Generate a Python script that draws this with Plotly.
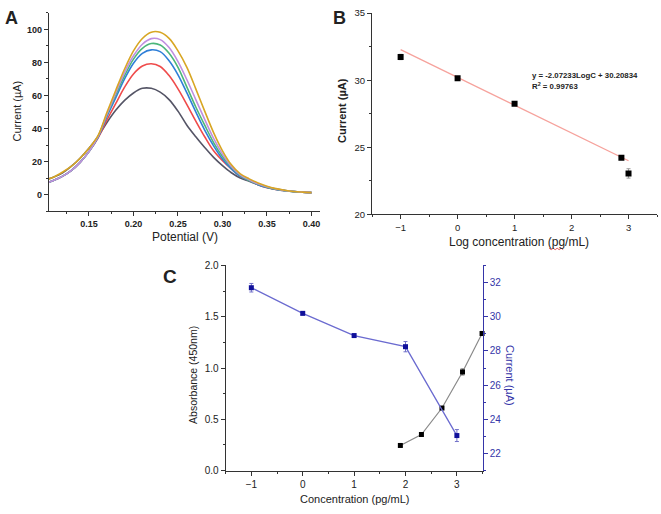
import plotly.graph_objects as go

# ---------------- Panel A data (DPV curves) ----------------
potential = [0.105, 0.11, 0.12, 0.13, 0.14, 0.15, 0.16, 0.17, 0.18, 0.19, 0.20, 0.21, 0.22,
             0.23, 0.24, 0.25, 0.26, 0.27, 0.28, 0.29, 0.30, 0.31, 0.32, 0.33, 0.34, 0.35,
             0.36, 0.37, 0.38, 0.39, 0.40]
curve_grey = [9.5, 10.5, 13, 17, 22, 28, 35, 43.5, 51, 57, 61.5, 64.3, 64.3,
              62, 57.5, 50.5, 42, 35, 28.5, 22.5, 17.5, 13.2, 10, 8, 6, 4.5,
              3.3, 2.5, 1.9, 1.5, 1.2]
curve_red = [7.5, 8.5, 11, 14.5, 19.5, 26, 34, 45, 55, 65, 73, 77.8, 79.2,
             77.5, 72, 64, 54.5, 44.5, 35, 26.5, 20.5, 15.5, 11, 8.5, 6, 4.2,
             3.1, 2.3, 1.8, 1.4, 1.2]
curve_blue = [7.5, 8.5, 11, 14.5, 19.5, 26, 34.5, 47, 58.5, 70, 79.5, 85.5, 87.6,
              86.5, 81, 72.5, 61.5, 50, 39, 29.5, 21.5, 15.5, 11, 8.5, 6, 4.3,
              3.1, 2.3, 1.8, 1.4, 1.2]
curve_green = [7.5, 8.5, 11, 14.5, 19.5, 26, 35, 48, 60.5, 72, 82, 88.5, 91.4,
               90.5, 85.5, 77, 65, 53, 42, 31.5, 23, 16.5, 11.5, 8.5, 6.2, 4.5,
               3.2, 2.4, 1.8, 1.4, 1.2]
curve_purple = [7.5, 8.5, 11, 14.5, 19.5, 26, 35, 48.5, 61.5, 74, 84, 91, 94.4,
                93.8, 89, 80.5, 69.5, 57.5, 45.5, 34, 24.5, 17, 12, 9, 6.5, 4.7,
                3.4, 2.5, 1.9, 1.5, 1.2]
curve_gold = [9.5, 10.5, 13.5, 17, 22, 28, 35.5, 49.5, 63, 76, 87, 94.5, 98.3,
              98.2, 94.5, 87, 77, 64, 50.5, 37.5, 26.5, 18, 12.5, 9.5, 7, 5,
              3.6, 2.6, 1.9, 1.5, 1.2]

# ---------------- Panel B data (calibration) ----------------
log_conc_b = [-1, 0, 1, 2.875, 3]
current_b = [31.73, 30.15, 28.25, 24.22, 23.05]
current_b_err = [0.2, 0.08, 0.08, 0.08, 0.35]
fit_x = [-1, 3]
fit_slope = -2.07233
fit_intercept = 30.20834

# ---------------- Panel C data ----------------
conc_current_c = [-1, 0, 1, 2, 3]
current_c = [31.7, 30.2, 28.9, 28.25, 23.05]
current_c_err = [0.25, 0.08, 0.08, 0.3, 0.35]
conc_abs_c = [1.9, 2.31, 2.71, 3.11, 3.49]
absorb_c = [0.245, 0.352, 0.61, 0.962, 1.337]
absorb_c_err = [0.01, 0.01, 0.01, 0.03, 0.02]

W, H = 661, 514
def px(x):
    return x / W
def py(y):
    return 1 - y / H

FONT = "Liberation Sans, Arial, sans-serif"
AX = "#333333"
BLUE_AX = "#3535a8"

fig = go.Figure()

colors_a = ["#555566", "#ef4b4b", "#2f7fd8", "#4cb67a", "#c08fe0", "#d8a624"]
curves_a = [curve_grey, curve_red, curve_blue, curve_green, curve_purple, curve_gold]
for c, ys in zip(colors_a, curves_a):
    fig.add_trace(go.Scatter(x=potential, y=ys, mode="lines", line=dict(color=c, width=1.6, shape="spline", smoothing=1.0),
                             xaxis="x", yaxis="y", showlegend=False, hoverinfo="skip"))

# Panel B
fit_y = [fit_slope * v + fit_intercept for v in fit_x]
fig.add_trace(go.Scatter(x=fit_x, y=fit_y, mode="lines", line=dict(color="#f6a29c", width=1.3),
                         xaxis="x2", yaxis="y2", showlegend=False))
fig.add_trace(go.Scatter(x=log_conc_b, y=current_b, mode="markers",
                         marker=dict(symbol="square", color="black", size=6),
                         error_y=dict(type="data", array=current_b_err, color="#999999", thickness=1, width=2),
                         xaxis="x2", yaxis="y2", showlegend=False))

# Panel C
fig.add_trace(go.Scatter(x=conc_abs_c, y=absorb_c, mode="lines+markers",
                         line=dict(color="#8a8a8a", width=1.2),
                         marker=dict(symbol="square", color="black", size=5),
                         error_y=dict(type="data", array=absorb_c_err, color="#777777", thickness=1, width=2),
                         xaxis="x3", yaxis="y3", showlegend=False, cliponaxis=False))
fig.add_trace(go.Scatter(x=conc_current_c, y=current_c, mode="lines+markers",
                         line=dict(color="#6b6bd0", width=1.3),
                         marker=dict(symbol="square", color="#10109a", size=5),
                         error_y=dict(type="data", array=current_c_err, color="#7070c8", thickness=1, width=2),
                         xaxis="x3", yaxis="y4", showlegend=False, cliponaxis=False))

common = dict(showgrid=False, zeroline=False, showline=True, linecolor=AX, linewidth=1.2,
              ticks="outside", tickcolor=AX, tickwidth=1, ticklen=4)

fig.update_layout(
    width=W, height=H, margin=dict(l=0, r=0, t=0, b=0), autosize=False,
    paper_bgcolor="white", plot_bgcolor="white",
    font=dict(family=FONT, color="#222222"),
    xaxis=dict(domain=[px(49), px(320)], anchor="y", range=[0.105, 0.409], tick0=0.15, dtick=0.05,
               tickformat=".2f", tickfont=dict(size=9, weight="bold"),
               minor=dict(ticks="outside", ticklen=2, dtick=0.025, tick0=0.15, tickcolor=AX), **common),
    yaxis=dict(domain=[py(210), py(7)], anchor="x", range=[-10, 110], tick0=0, dtick=20,
               tickfont=dict(size=9, weight="bold"),
               minor=dict(ticks="outside", ticklen=2, dtick=10, tick0=0, tickcolor=AX), **common),
    xaxis2=dict(domain=[px(372.7), px(658)], anchor="y2", range=[-1.5, 3.5], tick0=0, dtick=1,
                tickfont=dict(size=9.5),
                minor=dict(ticks="outside", ticklen=2, dtick=0.5, tick0=0, tickcolor=AX), **common),
    yaxis2=dict(domain=[py(213.3), py(7.3)], anchor="x2", range=[20, 35], tick0=20, dtick=5,
                tickfont=dict(size=9.5),
                minor=dict(ticks="outside", ticklen=2, dtick=2.5, tick0=20, tickcolor=AX), **common),
    xaxis3=dict(domain=[px(226), px(483.3)], anchor="y3", range=[-1.5, 3.5], tick0=0, dtick=1,
                tickfont=dict(size=10),
                minor=dict(ticks="outside", ticklen=2, dtick=0.5, tick0=0, tickcolor=AX), **common),
    xaxis4=dict(overlaying="x3", anchor="y3", side="top", range=[-1.5, 3.5], tick0=0, dtick=1,
                showticklabels=False, showgrid=False, zeroline=False, showline=True, linecolor=AX,
                linewidth=1.2, ticks="inside", ticklen=4, tickcolor=AX,
                minor=dict(ticks="inside", ticklen=2, dtick=0.5, tick0=0, tickcolor=AX)),
    yaxis3=dict(domain=[py(475.7), py(265.7)], anchor="x3", range=[0, 2], tick0=0, dtick=0.5,
                tickformat=".1f", tickfont=dict(size=10),
                minor=dict(ticks="outside", ticklen=2, dtick=0.25, tick0=0, tickcolor=AX), **common),
    yaxis4=dict(overlaying="y3", anchor="x3", side="right", range=[21, 33], tick0=22, dtick=2,
                showgrid=False, zeroline=False, showline=True, linecolor=BLUE_AX, linewidth=1.2,
                ticks="outside", ticklen=4, tickcolor=BLUE_AX, tickfont=dict(size=10, color=BLUE_AX),
                minor=dict(ticks="outside", ticklen=2, dtick=1, tick0=22, tickcolor=BLUE_AX)),
)

def ann(text, x, y, size, xanchor="center", yanchor="middle", angle=0, color="#222222", bold=False, family=FONT):
    fig.add_annotation(text=text, x=px(x), y=py(y), xref="paper", yref="paper", showarrow=False,
                       xanchor=xanchor, yanchor=yanchor, textangle=angle,
                       font=dict(size=size, color=color, family=family, weight="bold" if bold else "normal"))

ann("A", 3, 12, 18, xanchor="left", bold=True)
ann("B", 332, 12, 18, xanchor="left", bold=True)
ann("C", 161, 277, 19, xanchor="left", bold=True)

ann("Current (µA)", 17, 107, 11, angle=-90)
ann("Potential (V)", 185, 237, 12)
ann("Current (µA)", 342, 107, 11, angle=-90, bold=True)
ann("Log concentration (pg/mL)", 520, 242, 12)
ann("y = -2.07233LogC + 30.20834", 531, 71, 7.8, xanchor="left", bold=True)
ann("R<sup>2</sup> = 0.99763", 531, 82, 7.8, xanchor="left", bold=True)
ann("Absorbance (450nm)", 193, 378, 10.5, angle=-90)
ann("Concentration (pg/mL)", 355, 505, 11)
ann("Current (µA)", 511, 378, 11, angle=90, color=BLUE_AX)

# small red spell-check squiggle under "pg" in panel B's axis title
sq_x = [550, 552, 554, 556, 558, 560, 562, 564]
sq_path = "M " + " L ".join(f"{px(v):.5f},{py(248.5 + (1 if i % 2 else -0.5)):.5f}" for i, v in enumerate(sq_x))
fig.add_shape(type="path", xref="paper", yref="paper", path=sq_path, line=dict(color="#e03030", width=0.8))

fig.write_html("out.html", config={"displayModeBar": False, "responsive": False},
               post_script="document.body.style.margin='0px';document.body.style.padding='0px';"
                           "document.documentElement.style.overflow='hidden';")
